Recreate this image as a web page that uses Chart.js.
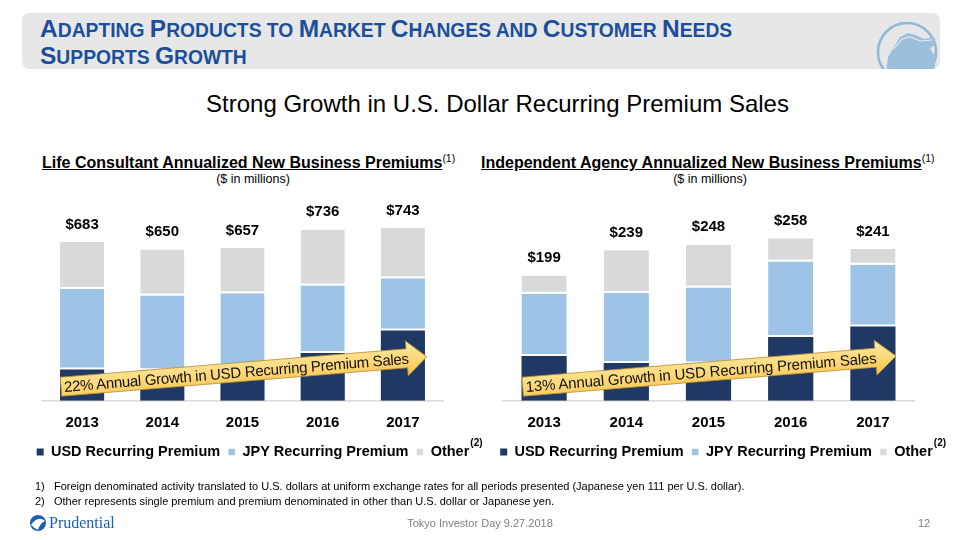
<!DOCTYPE html>
<html>
<head>
<meta charset="utf-8">
<script src="https://cdn.jsdelivr.net/npm/chart.js@4.4.1/dist/chart.umd.min.js"></script>
<style>
  body { margin: 0; width: 960px; height: 540px; position: relative; background: #fff; font-family: "Liberation Sans", Arial, sans-serif; overflow: hidden; }
  .abs { position: absolute; }
  .band { left: 22px; top: 13px; width: 918px; height: 56px; background: #e7e7e7; border-radius: 7px; overflow: hidden; }
  .title { left: 40px; top: 15.5px; color: #1b4f9b; font-weight: bold; font-size: 19.3px; line-height: 25.5px; text-transform: uppercase; white-space: nowrap; }
  .title b { font-size: 24.5px; }
  .sub { left: 0; width: 995px; top: 90px; text-align: center; font-size: 24px; color: #000; }
  .ctitle { font-weight: bold; font-size: 16px; text-decoration: underline; color: #000; white-space: nowrap; }
  .ctitle sup { font-weight: normal; text-decoration: none; font-size: 10.5px; display: inline-block; }
  .unit { font-size: 12.5px; color: #000; text-align: center; }
  .note { left: 35px; font-size: 11px; color: #000; }
  .foot { font-size: 11px; color: #7f7f7f; }
  .sup2 { font-size: 10px; font-weight: bold; color: #000; }
  canvas { position: absolute; }
</style>
</head>
<body>
<div class="abs band">
  <svg width="918" height="56" style="position:absolute;left:0;top:0">
    <circle cx="885" cy="39" r="29" fill="none" stroke="#8fb8d6" stroke-width="2.5"/>
    <path d="M864 60 L866 44 L872 34 L878 24 L886 20 L894 22 L902 26 L912 24 L914 30 L908 36 L914 44 L912 60 Z" fill="#9cc0dc"/>
    <path d="M872 36 L880 26 L888 24 L898 28 L910 27" fill="none" stroke="#e7e7e7" stroke-width="1.2"/>
  </svg>
</div>
<div class="abs title"><b>A</b>dapting <b>P</b>roducts to <b>M</b>arket <b>C</b>hanges and <b>C</b>ustomer <b>N</b>eeds<br><b>S</b>upports <b>G</b>rowth</div>
<div class="abs sub">Strong Growth in U.S. Dollar Recurring Premium Sales</div>

<div class="abs ctitle" style="left:42px;top:152px">Life Consultant Annualized New Business Premiums<sup>(1)</sup></div>
<div class="abs unit" style="left:153px;width:200px;top:171.5px">($ in millions)</div>
<div class="abs ctitle" style="left:481px;top:152px">Independent Agency Annualized New Business Premiums<sup>(1)</sup></div>
<div class="abs unit" style="left:610px;width:200px;top:171.5px">($ in millions)</div>

<canvas id="left" class="abs" style="left:18px;top:190px;width:470px;height:285px" width="470" height="285"></canvas>
<canvas id="right" class="abs" style="left:484px;top:190px;width:465px;height:285px" width="465" height="285"></canvas>

<svg class="abs" style="left:0;top:0;pointer-events:none" width="960" height="540">
  <defs>
    <linearGradient id="gold" x1="0" y1="0" x2="0" y2="1">
      <stop offset="0" stop-color="#fde7a4"/>
      <stop offset="0.5" stop-color="#fcd97a"/>
      <stop offset="1" stop-color="#f6c24c"/>
    </linearGradient>
  </defs>
  <g transform="translate(61,386.7) rotate(-4.69)">
    <path d="M0 -9.5 L347 -9.5 L347 -17.5 L367 0 L347 17.5 L347 9.5 L0 9.5 Z" fill="url(#gold)" stroke="#b8902e" stroke-width="0.8"/>
    <text x="3" y="5.5" font-family="Liberation Sans, Arial" font-size="15" fill="#111" textLength="346">22% Annual Growth in USD Recurring Premium Sales</text>
  </g>
  <g transform="translate(522.7,386.7) rotate(-4.70)">
    <path d="M0 -9.5 L354 -9.5 L354 -17.5 L374.6 0 L354 17.5 L354 9.5 L0 9.5 Z" fill="url(#gold)" stroke="#b8902e" stroke-width="0.8"/>
    <text x="3" y="5.5" font-family="Liberation Sans, Arial" font-size="15" fill="#111" textLength="352">13% Annual Growth in USD Recurring Premium Sales</text>
  </g>
  <circle cx="38" cy="523" r="8" fill="#1c5fae"/>
  <path d="M31 525 Q38 515 45 521 Q40 523 38 530 Q34 528 31 525 Z" fill="#fff"/>
</svg>

<div class="abs sup2" id="supleft">(2)</div>
<div class="abs sup2" id="supright">(2)</div>

<div class="abs note" style="top:480px">1)&nbsp;&nbsp;&nbsp;Foreign denominated activity translated to U.S. dollars at uniform exchange rates for all periods presented (Japanese yen 111 per U.S. dollar).</div>
<div class="abs note" style="top:495px">2)&nbsp;&nbsp;&nbsp;Other represents single premium and premium denominated in other than U.S. dollar or Japanese yen.</div>

<div class="abs" style="left:49px;top:514px;font-family:'Liberation Serif','DejaVu Serif',serif;font-size:16px;color:#1c5fae">Prudential</div>
<div class="abs foot" style="left:0;width:960px;text-align:center;top:517px">Tokyo Investor Day 9.27.2018</div>
<div class="abs foot" style="left:918px;top:517px">12</div>

<script>
const years = ["2013", "2014", "2015", "2016", "2017"];
const seriesNames = ["USD Recurring Premium", "JPY Recurring Premium", "Other"];

// Life Consultant ($ millions)
const lcUsd = [134, 131, 150, 205, 302];
const lcJpy = [347, 321, 312, 291, 225];
const lcOther = [202, 198, 195, 240, 216];
const lcTotals = [683, 650, 657, 736, 743];

// Independent Agency ($ millions)
const iaUsd = [71, 60, 59, 101, 118];
const iaJpy = [99, 111, 121, 120, 98];
const iaOther = [29, 68, 68, 37, 25];
const iaTotals = [199, 239, 248, 258, 241];

const colors = ["#1f3864", "#9dc3e6", "#d9d9d9"];
const FONT = "'Liberation Sans', Arial, sans-serif";

// where the axis line and the legend row sit inside each canvas (canvas top is at 190)
const BASELINE = 211.7;
const LEGEND_MID = 263;

const totalsLabels = {
    id: "totalsLabels",
    afterDatasetsDraw(chart, args, opts) {
        const { ctx, scales: { x, y } } = chart;
        ctx.save();
        ctx.font = "bold 15px " + FONT;
        ctx.fillStyle = "#000";
        ctx.textAlign = "center";
        ctx.textBaseline = "middle";
        opts.totals.forEach((t, i) => {
            ctx.fillText("$" + t, x.getPixelForValue(i), y.getPixelForValue(t) - 17.5);
        });
        ctx.restore();
    }
};

// invisible axis that only reserves horizontal room, so the legend keeps the full canvas width
function spacer(position, width) {
    return {
        type: "linear",
        position: position,
        display: true,
        grid: { display: false },
        border: { display: false },
        ticks: { display: false },
        afterFit(scale) { scale.width = width; }
    };
}

function makeChart(id, usd, jpy, other, totals, yMax, padL, padR) {
    const data = [usd, jpy, other];
    const chart = new Chart(document.getElementById(id), {
        type: "bar",
        data: {
            labels: years,
            datasets: seriesNames.map((name, k) => ({
                label: name,
                data: data[k],
                backgroundColor: colors[k],
                borderColor: "#ffffff",
                borderWidth: { top: 0, bottom: k === 0 ? 0 : 2, left: 0, right: 0 },
                borderSkipped: false,
                categoryPercentage: 1,
                barPercentage: 0.55
            }))
        },
        options: {
            responsive: false,
            animation: false,
            devicePixelRatio: 1,
            layout: { padding: { left: 0, right: 0, top: 15, bottom: 4 } },
            scales: {
                x: {
                    stacked: true,
                    grid: { display: false },
                    border: { color: "#d9d9d9", width: 1.5 },
                    ticks: { color: "#000", font: { family: FONT, size: 15, weight: "bold" }, padding: 4 }
                },
                y: Object.assign(spacer("left", padL), { stacked: true, min: 0, max: yMax }),
                pad: spacer("right", padR)
            },
            plugins: {
                legend: {
                    position: "bottom",
                    labels: {
                        color: "#000",
                        boxWidth: 7,
                        boxHeight: 7,
                        padding: 8,
                        font: { family: FONT, size: 14.5, weight: "bold" }
                    }
                },
                tooltip: { enabled: false },
                totalsLabels: { totals: totals }
            }
        },
        plugins: [totalsLabels]
    });

    // nudge the bottom padding and tick gap so the legend row and the axis line land where they should
    const legendMid = (chart.legend.top + chart.legend.bottom) / 2;
    const d1 = legendMid - LEGEND_MID;
    const d2 = chart.chartArea.bottom - d1 - BASELINE;
    chart.options.layout.padding.bottom += d1;
    chart.options.scales.x.ticks.padding += d2;
    chart.update();

    // place the "(2)" note mark right after the "Other" legend entry
    const canvas = document.getElementById(id);
    const box = chart.legend.legendHitBoxes[2];
    const mark = document.getElementById("sup" + id);
    mark.style.left = (canvas.offsetLeft + box.left + box.width + 1) + "px";
    mark.style.top = (canvas.offsetTop + box.top - 8) + "px";
    return chart;
}

makeChart("left", lcUsd, lcJpy, lcOther, lcTotals, 842, 24, 45);
makeChart("right", iaUsd, iaJpy, iaOther, iaTotals, 311, 19, 35);
</script>
</body>
</html>
